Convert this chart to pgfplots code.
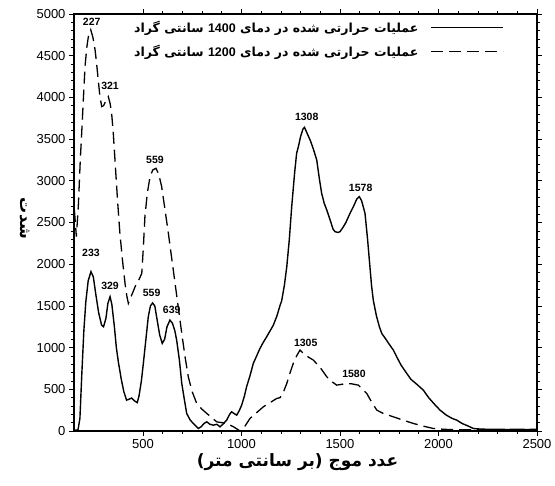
\documentclass[border=0pt]{standalone}
\usepackage{fontspec}
\setmainfont{Liberation Sans}
\newfontfamily\fa[Script=Arabic]{DejaVu Sans}
\TeXXeTstate=1
\usepackage{pgfplots}
\pgfplotsset{compat=1.18}
\begin{document}
\begin{tikzpicture}
\begin{axis}[
  scale only axis, width=463pt, height=417pt,
  xmin=150, xmax=2500, ymin=0, ymax=5000,
  xtick={500,1000,1500,2000,2500},
  ytick={0,500,1000,1500,2000,2500,3000,3500,4000,4500,5000},
  minor x tick num=4, minor y tick num=4,
  tick align=outside, major tick length=5pt, minor tick length=3pt,
  axis line style={line width=1.1pt},
  tick style={black, line width=0.6pt},
  /pgf/number format/assume math mode=true,
  /pgf/number format/1000 sep={},
  ticklabel style={font=\fontsize{13}{15}\selectfont},
  xlabel={\fa\bfseries\fontsize{17}{19}\selectfont\beginR عدد موج (بر سانتی متر)\endR},
  xlabel style={xshift=-8pt, yshift=2pt},
  ylabel={\fa\bfseries\fontsize{16}{18}\selectfont\beginR شدت\endR},
  ylabel style={rotate=180, xshift=-4pt},
  legend style={at={(rel axis cs:1,1)}, anchor=north east, xshift=-30pt, yshift=-3pt,
    draw=none, fill=none, font={\fontsize{12.5}{14}\selectfont\fa\bfseries}, row sep=7pt},
  legend cell align=right,
  legend plot pos=right,
  legend image code/.code={\path (0pt,0pt); \draw[#1, line width=1.4pt] (10pt,0pt) -- (82pt,0pt);},
]
\addplot[black, line width=1.4pt] coordinates {
(152,10) (170,10) (180,150) (190,700) (200,1200) (210,1550) (222,1800) (236,1910) (248,1850)
(260,1650) (275,1420) (290,1270) (300,1250) (312,1350) (322,1530) (333,1610) (342,1520)
(355,1250) (365,1000) (375,830) (390,620) (403,470) (417,370) (428,380) (443,395) (458,360)
(471,340) (480,420) (492,600) (502,810) (515,1100) (527,1370) (538,1500) (549,1535) (560,1500)
(572,1330) (585,1150) (598,1050) (610,1100) (622,1250) (637,1330) (650,1290) (662,1200)
(671,1090) (685,850) (697,570) (710,380) (722,210) (740,130) (756,90) (768,60) (781,30)
(795,50) (810,90) (824,110) (840,80) (857,70) (875,80) (891,50) (905,80) (925,130) (940,200)
(950,230) (962,210) (976,190) (990,250) (1001,310) (1015,420) (1026,530) (1043,660) (1060,810)
(1077,900) (1094,990) (1110,1060) (1128,1130) (1145,1200) (1162,1270) (1180,1380) (1195,1500)
(1204,1560) (1218,1750) (1230,1970) (1243,2300) (1255,2690) (1270,3100) (1280,3330) (1289,3410)
(1300,3530) (1312,3620) (1320,3640) (1335,3560) (1350,3480) (1365,3380) (1382,3250) (1395,3030)
(1407,2850) (1420,2730) (1433,2650) (1450,2530) (1465,2420) (1475,2390) (1490,2380) (1500,2390)
(1515,2440) (1530,2500) (1551,2610) (1570,2700) (1585,2780) (1598,2810) (1610,2760) (1627,2610)
(1640,2300) (1652,1970) (1660,1750) (1669,1570) (1685,1380) (1700,1250) (1712,1170) (1730,1110)
(1750,1040) (1771,970) (1790,880) (1810,790) (1839,690) (1860,620) (1890,560) (1923,490)
(1950,400) (1980,320) (2008,250) (2040,190) (2070,150) (2093,130) (2120,90) (2150,60)
(2177,30) (2200,25) (2250,20) (2300,20) (2350,18) (2400,20) (2450,18) (2500,20)
};
\addlegendentry{\beginR عملیات حرارتی شده در دمای \beginL{\rmfamily 1400}\endL{} سانتی گراد\endR}
\addplot[black, line width=1.3pt, dash pattern=on 12pt off 6pt] coordinates {
(152,2650) (162,2330) (172,2700) (182,3250) (189,3570) (198,4000) (206,4370) (215,4600)
(223,4730) (235,4810) (246,4720) (257,4570) (265,4400) (273,4210) (282,4000) (291,3890)
(300,3900) (312,3960) (324,4010) (333,3930) (341,3810) (350,3550) (358,3250) (370,2800)
(383,2370) (396,2050) (409,1770) (418,1620) (426,1530) (443,1630) (460,1730) (477,1800)
(494,1890) (502,2200) (510,2570) (522,2850) (536,3050) (550,3130) (566,3150) (580,3080)
(595,2930) (612,2650) (629,2370) (646,2070) (663,1770) (680,1470) (697,1170) (713,900)
(730,650) (750,470) (773,330) (800,260) (824,210) (850,160) (874,110) (900,100) (925,90)
(960,50) (993,0) (1010,30) (1043,150) (1077,220) (1111,290) (1145,340) (1179,390) (1196,400)
(1215,480) (1230,570) (1247,700) (1263,810) (1280,900) (1297,970) (1310,940) (1330,900)
(1365,850) (1400,760) (1433,650) (1460,590) (1483,550) (1510,560) (1534,570) (1560,565)
(1593,550) (1615,500) (1636,450) (1660,350) (1687,250) (1720,210) (1771,170) (1820,130)
(1873,90) (1920,60) (1974,30) (2030,20) (2093,15) (2200,15) (2300,15) (2400,15) (2500,15)
};
\addlegendentry{\beginR عملیات حرارتی شده در دمای \beginL{\rmfamily 1200}\endL{} سانتی گراد\endR}
\begin{scope}[every node/.style={font=\bfseries\fontsize{10.5}{12}\selectfont}]
\node at (axis cs:240,4900) {227};
\node at (axis cs:333,4140) {321};
\node at (axis cs:561,3250) {559};
\node at (axis cs:236,2130) {233};
\node at (axis cs:333,1740) {329};
\node at (axis cs:544,1650) {559};
\node at (axis cs:646,1450) {639};
\node at (axis cs:1331,3770) {1308};
\node at (axis cs:1605,2920) {1578};
\node at (axis cs:1326,1060) {1305};
\node at (axis cs:1571,690) {1580};
\end{scope}
\coordinate (bl) at (rel axis cs:0,0);
\coordinate (tr) at (rel axis cs:1,1);
\end{axis}
\pgfresetboundingbox
\path ([shift={(-74pt,-55pt)}]bl) rectangle ([shift={(18pt,14pt)}]tr);
\end{tikzpicture}
\end{document}
